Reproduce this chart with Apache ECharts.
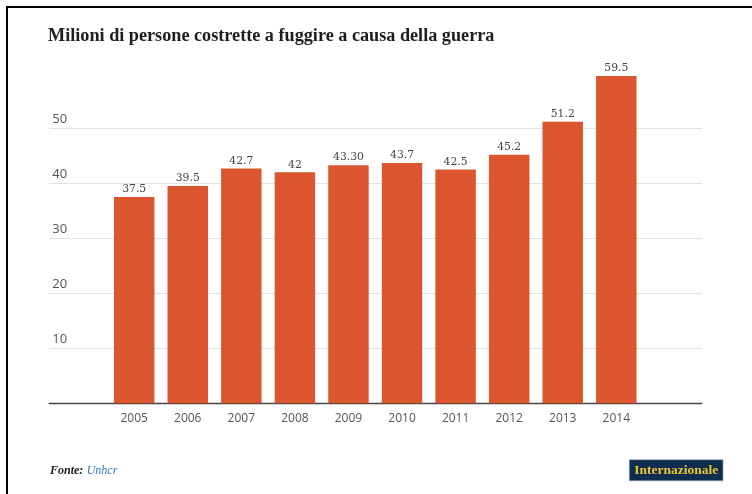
<!DOCTYPE html>
<html>
<head>
<meta charset="utf-8">
<script src="https://cdn.jsdelivr.net/npm/echarts@6/dist/echarts.min.js"></script>
<style>
  html, body { margin: 0; padding: 0; background: #fff; }
  #chart { width: 752px; height: 494px; }
</style>
</head>
<body>
<div id="chart"></div>
<script>
// Persone costrette a fuggire (milioni), 2005-2014
const years = ['2005', '2006', '2007', '2008', '2009', '2010', '2011', '2012', '2013', '2014'];
const values = [37.5, 39.5, 42.7, 42, 43.3, 43.7, 42.5, 45.2, 51.2, 59.5];
const valueLabels = ['37.5', '39.5', '42.7', '42', '43.30', '43.7', '42.5', '45.2', '51.2', '59.5'];
const yMin = 0, yMax = 60, yStep = 10;

const chart = echarts.init(document.getElementById('chart'), null, { renderer: 'canvas' });

const plotTop = 73.3, plotBottom = 90.7;
const gridColor = '#e2e2e2';

chart.setOption({
  animation: false,
  backgroundColor: '#fff',
  title: {
    text: 'Milioni di persone costrette a fuggire a causa della guerra',
    left: 48, top: 27.5, padding: 0,
    textStyle: { fontFamily: 'Liberation Serif', fontWeight: 'bold', fontSize: 18.2, color: '#1e1e1e' }
  },
  grid: [
    // bars
    { left: 107.4, right: 108.9, top: plotTop, bottom: plotBottom },
    // gridlines, baseline and value labels (wider than the bar area)
    { left: 49.3, right: 50.3, top: plotTop, bottom: plotBottom }
  ],
  xAxis: [
    {
      type: 'category', gridIndex: 0, data: years,
      axisLine: { show: false }, axisTick: { show: false },
      axisLabel: { margin: 9, fontFamily: 'Open Sans', fontSize: 12, color: '#555' }
    },
    {
      type: 'value', gridIndex: 1, min: 0, max: 1,
      axisLine: { show: true, lineStyle: { color: '#444', width: 1.3 } },
      axisTick: { show: false }, axisLabel: { show: false }, splitLine: { show: false }
    }
  ],
  yAxis: [
    {
      type: 'value', gridIndex: 0, min: yMin, max: yMax, interval: yStep,
      axisLine: { show: false }, axisTick: { show: false },
      axisLabel: { show: false }, splitLine: { show: false }
    },
    {
      type: 'value', gridIndex: 1, min: yMin, max: yMax, interval: yStep,
      axisLine: { show: false }, axisTick: { show: false },
      axisLabel: {
        inside: true, margin: 3, showMinLabel: false, showMaxLabel: false,
        verticalAlign: 'bottom', padding: [0, 0, 3, 0],
        fontFamily: 'Open Sans', fontSize: 13, color: '#555'
      },
      splitLine: {
        show: true,
        lineStyle: {
          width: 1,
          color: [gridColor, gridColor, gridColor, gridColor, gridColor, gridColor, 'rgba(0,0,0,0)']
        }
      }
    }
  ],
  series: [
    {
      type: 'bar', xAxisIndex: 0, yAxisIndex: 0,
      data: values, barCategoryGap: '24.5%', z: 5,
      itemStyle: { color: '#db552f' },
      label: {
        show: true, position: 'top', distance: 2,
        fontFamily: 'DejaVu Serif', fontSize: 10.8, color: '#444',
        formatter: p => valueLabels[p.dataIndex]
      }
    }
  ],
  graphic: [
    // frame
    { type: 'rect', shape: { x: 6, y: 6, width: 2, height: 494 }, style: { fill: '#000' }, silent: true },
    { type: 'rect', shape: { x: 6, y: 6, width: 752, height: 2 }, style: { fill: '#000' }, silent: true },
    // source
    {
      type: 'text', left: 50, top: 465,
      style: {
        text: '{a|Fonte:} {b|Unhcr}',
        rich: {
          a: { fontFamily: 'Liberation Serif', fontStyle: 'italic', fontWeight: 'bold', fontSize: 12, fill: '#222' },
          b: { fontFamily: 'Liberation Serif', fontStyle: 'italic', fontSize: 12, fill: '#2f76b8' }
        }
      }
    },
    // logo
    {
      type: 'group', left: 629, top: 459.5,
      children: [
        { type: 'rect', shape: { x: 0, y: 0, width: 93.7, height: 21 }, style: { fill: '#0f2d4e', stroke: '#8ea0b3', lineWidth: 0.6 } },
        {
          type: 'text', x: 46.85, y: 10.5,
          style: {
            text: 'Internazionale', align: 'center', verticalAlign: 'middle',
            fontFamily: 'Liberation Serif', fontWeight: 'bold', fontSize: 13.5, fill: '#e9c530'
          }
        }
      ]
    }
  ]
});
</script>
</body>
</html>
